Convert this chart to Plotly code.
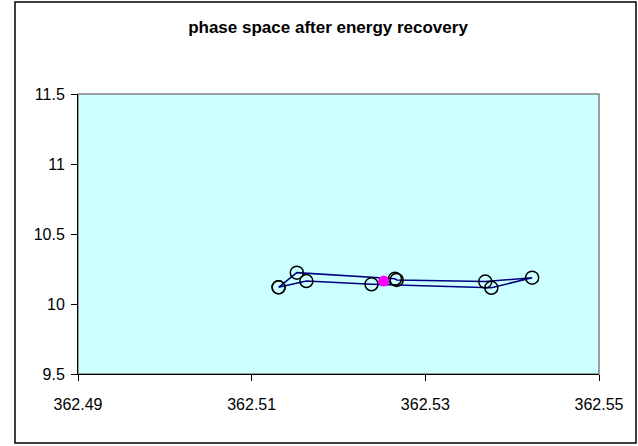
import plotly.graph_objects as go

# Loop of phase-space points (closed path)
loop_x = [362.5131, 362.5152, 362.5265, 362.5267, 362.5369, 362.5423, 362.5376, 362.5238, 362.5163, 362.5131]
loop_y = [10.119, 10.224, 10.180, 10.172, 10.160, 10.188, 10.116, 10.141, 10.164, 10.119]

# Centre point
centre_x = [362.5252]
centre_y = [10.164]

x_ticks = [362.49, 362.51, 362.53, 362.55]
x_tick_labels = ["362.49", "362.51", "362.53", "362.55"]
y_ticks = [9.5, 10, 10.5, 11, 11.5]
y_tick_labels = ["9.5", "10", "10.5", "11", "11.5"]

W, H = 638, 446
L, R, T, B = 78, 39, 94, 72
pw, ph = W - L - R, H - T - B

fig = go.Figure()
fig.add_trace(go.Scatter(
    x=loop_x, y=loop_y, mode="lines+markers",
    line=dict(color="#000080", width=1.5),
    marker=dict(symbol="circle-open", size=13, color="black", line=dict(width=1.5, color="black")),
    showlegend=False, hoverinfo="x+y",
))
fig.add_trace(go.Scatter(
    x=centre_x, y=centre_y, mode="markers",
    marker=dict(symbol="circle", size=11, color="#FF00FF", line=dict(width=0)),
    showlegend=False,
))

def px_to_paper_x(p):
    return (p - L) / pw

def px_to_paper_y(p):
    return (H - B - p) / ph

fig.update_layout(
    width=W, height=H,
    margin=dict(l=L, r=R, t=T, b=B, pad=0),
    paper_bgcolor="white",
    plot_bgcolor="#CCFFFF",
    font=dict(family="Liberation Sans, Arial, sans-serif", size=16, color="black"),
    title=dict(
        text="<b>phase space after energy recovery</b>",
        font=dict(family="Liberation Sans, Arial, sans-serif", size=17, color="black"),
        x=px_to_paper_x(328), xref="paper", xanchor="center",
        y=1 - 27 / H, yref="container", yanchor="middle",
    ),
    xaxis=dict(
        range=[362.49, 362.55], tickvals=x_ticks, ticktext=x_tick_labels,
        showgrid=False, zeroline=False,
        showline=True, linecolor="black", linewidth=1,
        ticks="outside", ticklen=6, tickcolor="black", tickwidth=1,
        ticklabelstandoff=10,
        tickfont=dict(size=16), fixedrange=True,
    ),
    yaxis=dict(
        range=[9.5, 11.5], tickvals=y_ticks, ticktext=y_tick_labels,
        showgrid=False, zeroline=False,
        showline=True, linecolor="black", linewidth=1,
        ticks="outside", ticklen=6, tickcolor="black", tickwidth=1,
        ticklabelstandoff=3,
        tickfont=dict(size=16), fixedrange=True,
    ),
    shapes=[
        # plot area border (gray)
        dict(type="rect", xref="paper", yref="paper", x0=0, x1=1, y0=0, y1=1,
             line=dict(color="#808080", width=1.5), layer="below"),
        # outer chart border
        dict(type="rect", xref="paper", yref="paper",
             x0=px_to_paper_x(15), x1=px_to_paper_x(636),
             y0=px_to_paper_y(443), y1=px_to_paper_y(2),
             line=dict(color="black", width=1.5)),
    ],
)

fig.write_html(
    "out.html",
    config={"displayModeBar": False},
    post_script="document.body.style.margin='0';document.body.style.overflow='hidden';",
)
